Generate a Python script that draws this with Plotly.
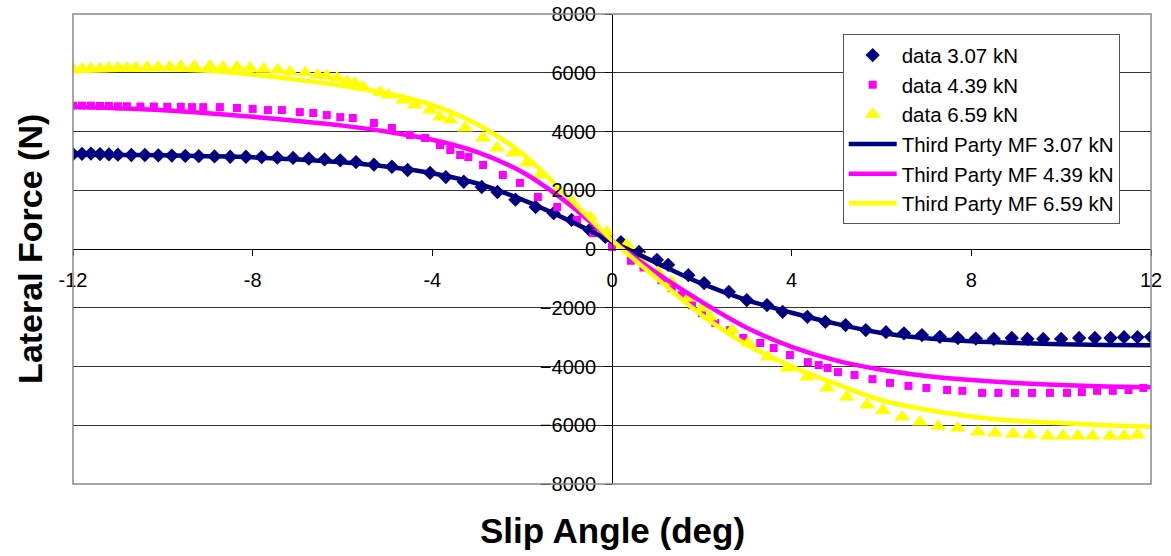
import plotly.graph_objects as go

# Measured lateral force vs slip angle, three vertical loads
data_307_x = [-12.0, -11.8, -11.6, -11.4, -11.2, -11.0, -10.7, -10.4, -10.1, -9.8, -9.5, -9.2,
              -8.85, -8.5, -8.15, -7.8, -7.45, -7.1, -6.75, -6.4, -6.05, -5.7, -5.3, -4.9,
              -4.55, -4.05, -3.7, -3.3, -2.9, -2.55, -2.15, -1.7, -1.3, -0.9, -0.5, -0.15,
              0.2, 0.6, 1.0, 1.25, 1.7, 2.05, 2.6, 3.0, 3.45, 3.8, 4.35, 4.75, 5.2, 5.65,
              6.1, 6.5, 6.9, 7.3, 7.7, 8.1, 8.5, 8.9, 9.25, 9.6, 10.0, 10.4, 10.75, 11.1,
              11.4, 11.7, 12.0]
data_307_y = [3230, 3240, 3250, 3230, 3220, 3210, 3200, 3200, 3190, 3180, 3170, 3160,
              3150, 3140, 3140, 3130, 3110, 3100, 3080, 3050, 3020, 2960, 2870, 2800,
              2690, 2590, 2450, 2290, 2110, 1940, 1680, 1430, 1220, 990, 650, 410,
              230, -100, -370, -540, -890, -1160, -1460, -1740, -1910, -2140, -2310, -2480,
              -2590, -2760, -2830, -2870, -2930, -2990, -3030, -3050, -3060, -3030, -3060,
              -3060, -3060, -3030, -3030, -3030, -3000, -3000, -2990]

data_439_x = [-12.0, -11.8, -11.6, -11.4, -11.2, -11.0, -10.8, -10.5, -10.2, -9.9, -9.6, -9.35,
              -9.1, -8.73, -8.35, -8.0, -7.66, -7.35, -6.95, -6.65, -6.35, -6.05, -5.77,
              -5.3, -4.9, -4.5, -4.16, -3.83, -3.6, -3.38, -3.2, -2.87, -2.43, -2.05, -1.65,
              -1.22, -0.78, -0.42, 0.0, 0.42, 0.7, 1.1, 1.33, 1.55, 1.78, 2.0, 2.3, 2.63,
              2.92, 3.3, 3.6, 3.96, 4.36, 4.6, 4.8, 5.03, 5.4, 5.8, 6.19, 6.6, 7.0, 7.46,
              7.8, 8.24, 8.6, 8.97, 9.35, 9.75, 10.13, 10.46, 10.8, 11.15, 11.5, 11.83]
data_439_y = [4880, 4880, 4880, 4870, 4870, 4860, 4860, 4850, 4850, 4840, 4840, 4830,
              4830, 4830, 4800, 4770, 4730, 4730, 4660, 4630, 4560, 4490, 4460,
              4290, 4120, 3880, 3780, 3540, 3370, 3200, 3130, 2860, 2520, 2250, 1770,
              1430, 990, 540, 70, -400, -630, -1060, -1330, -1570, -1910, -2180, -2520, -2760,
              -3030, -3200, -3370, -3610, -3850, -3950, -4050, -4190, -4290, -4430, -4560,
              -4660, -4730, -4800, -4830, -4900, -4900, -4900, -4900, -4900, -4900, -4870,
              -4830, -4830, -4800, -4730]

data_659_x = [-12.0, -11.8, -11.6, -11.4, -11.2, -11.0, -10.8, -10.6, -10.35, -10.1, -9.85,
              -9.6, -9.3, -8.95, -8.66, -8.35, -8.06, -7.75, -7.44, -7.17, -6.83, -6.55,
              -6.35, -6.12, -5.9, -5.72, -5.54, -5.16, -4.98, -4.65, -4.39, -4.05, -3.83,
              -3.6, -3.27, -2.87, -2.56, -2.2, -1.9, -1.6, -1.22, -0.87, -0.49, -0.11, 0.33,
              0.7, 1.02, 1.33, 1.7, 2.0, 2.18, 2.67, 3.03, 3.47, 3.9, 4.34, 4.79, 5.23, 5.68,
              6.03, 6.46, 6.86, 7.26, 7.7, 8.15, 8.53, 8.93, 9.3, 9.7, 10.04, 10.37, 10.7,
              11.09, 11.4, 11.7]
data_659_y = [6130, 6130, 6140, 6140, 6150, 6160, 6160, 6170, 6180, 6190, 6200,
              6210, 6220, 6230, 6200, 6200, 6160, 6120, 6090, 6030, 6000, 5920,
              5900, 5820, 5700, 5650, 5510, 5340, 5240, 5070, 4900, 4730, 4490,
              4390, 4120, 3780, 3440, 3270, 2930, 2520, 2010, 1560, 1090, 580, 150,
              -330, -780, -1120, -1670, -2010, -2310, -2760, -3200, -3680, -4050, -4360,
              -4730, -5040, -5310, -5500, -5720, -5890, -6030, -6090, -6230, -6260, -6300,
              -6330, -6370, -6370, -6370, -6370, -6370, -6370, -6330]

# Third Party Magic Formula fits, evaluated at whole degrees
mf_x = [-12, -11, -10, -9, -8, -7, -6, -5, -4, -3, -2, -1, 0,
        1, 2, 3, 4, 5, 6, 7, 8, 9, 10, 11, 12]
mf_307_y = [3210, 3200, 3190, 3160, 3120, 3050, 2950, 2800, 2580, 2230, 1680, 1000, 250,
            -480, -1180, -1740, -2170, -2550, -2860, -3040, -3140, -3200, -3240, -3265, -3280]
mf_439_y = [4850, 4790, 4720, 4620, 4500, 4360, 4200, 3990, 3720, 3300, 2620, 1580, 300,
            -820, -1800, -2680, -3330, -3800, -4110, -4320, -4460, -4560, -4630, -4680, -4710]
mf_659_y = [6050, 6100, 6120, 6070, 5940, 5760, 5560, 5290, 4900, 4250, 3250, 1800, 300,
            -1000, -2250, -3250, -4000, -4600, -5150, -5470, -5700, -5850, -5930, -6000, -6050]

x_ticks = [-12, -8, -4, 0, 4, 8, 12]

NAVY = "#000080"
MAGENTA = "#FF00FF"
YELLOW = "#FFFF00"
FONT = "Arial, Liberation Sans, sans-serif"

fig = go.Figure()

fig.add_trace(go.Scatter(x=data_307_x, y=data_307_y, mode="markers", name="data 3.07 kN",
                         marker=dict(symbol="diamond", size=11, color=NAVY, line=dict(width=0))))
fig.add_trace(go.Scatter(x=data_439_x, y=data_439_y, mode="markers", name="data 4.39 kN",
                         marker=dict(symbol="square", size=8, color=MAGENTA, line=dict(width=0))))
fig.add_trace(go.Scatter(x=data_659_x, y=data_659_y, mode="markers", name="data 6.59 kN",
                         marker=dict(symbol="triangle-up", size=14, color=YELLOW, line=dict(width=0))))

fig.add_trace(go.Scatter(x=mf_x, y=mf_307_y, mode="lines", name="Third Party MF 3.07 kN",
                         line=dict(color=NAVY, width=4.5, shape="spline", smoothing=1.0)))
fig.add_trace(go.Scatter(x=mf_x, y=mf_439_y, mode="lines", name="Third Party MF 4.39 kN",
                         line=dict(color=MAGENTA, width=4.5, shape="spline", smoothing=1.0)))
fig.add_trace(go.Scatter(x=mf_x, y=mf_659_y, mode="lines", name="Third Party MF 6.59 kN",
                         line=dict(color=YELLOW, width=4.5, shape="spline", smoothing=1.0)))

fig.update_layout(
    width=1171,
    height=556,
    margin=dict(l=73, r=20, t=14, b=72),
    paper_bgcolor="white",
    plot_bgcolor="white",
    font=dict(family=FONT, color="black"),
    showlegend=True,
    legend=dict(
        x=0.714, y=0.957, xanchor="left", yanchor="top",
        bgcolor="white", bordercolor="#555555", borderwidth=1,
        font=dict(family=FONT, size=20.5, color="black"),
        itemwidth=48,
    ),
    xaxis=dict(
        range=[-12, 12], tickvals=x_ticks, ticktext=[str(v) for v in x_ticks],
        anchor="free", position=0.5, automargin=False,
        showline=True, linecolor="black", linewidth=1,
        ticks="outside", ticklen=6, tickcolor="black",
        showgrid=False, zeroline=False,
        tickfont=dict(family=FONT, size=20, color="black"),
        ticklabelstandoff=7,
    ),
    yaxis=dict(
        range=[-8000, 8000], dtick=2000,
        anchor="free", position=0.5, automargin=False,
        showline=True, linecolor="black", linewidth=1,
        ticks="outside", ticklen=7, tickcolor="black",
        showgrid=True, gridcolor="#333333", gridwidth=1, zeroline=False,
        tickfont=dict(family=FONT, size=20, color="black"),
        ticklabelstandoff=5,
    ),
    shapes=[dict(type="rect", xref="paper", yref="paper", x0=0, x1=1, y0=0, y1=1,
                 line=dict(color="#888888", width=1.5), layer="above")],
    annotations=[
        dict(text="Lateral Force (N)", xref="paper", yref="paper", x=-0.04, y=0.5,
             textangle=-90, showarrow=False, xanchor="center", yanchor="middle",
             font=dict(family=FONT, size=34, color="black", weight="bold")),
        dict(text="Slip Angle (deg)", xref="paper", yref="paper", x=0.5, y=-0.098,
             showarrow=False, xanchor="center", yanchor="middle",
             font=dict(family=FONT, size=35, color="black", weight="bold")),
    ],
)

fig.write_html("out.html")
